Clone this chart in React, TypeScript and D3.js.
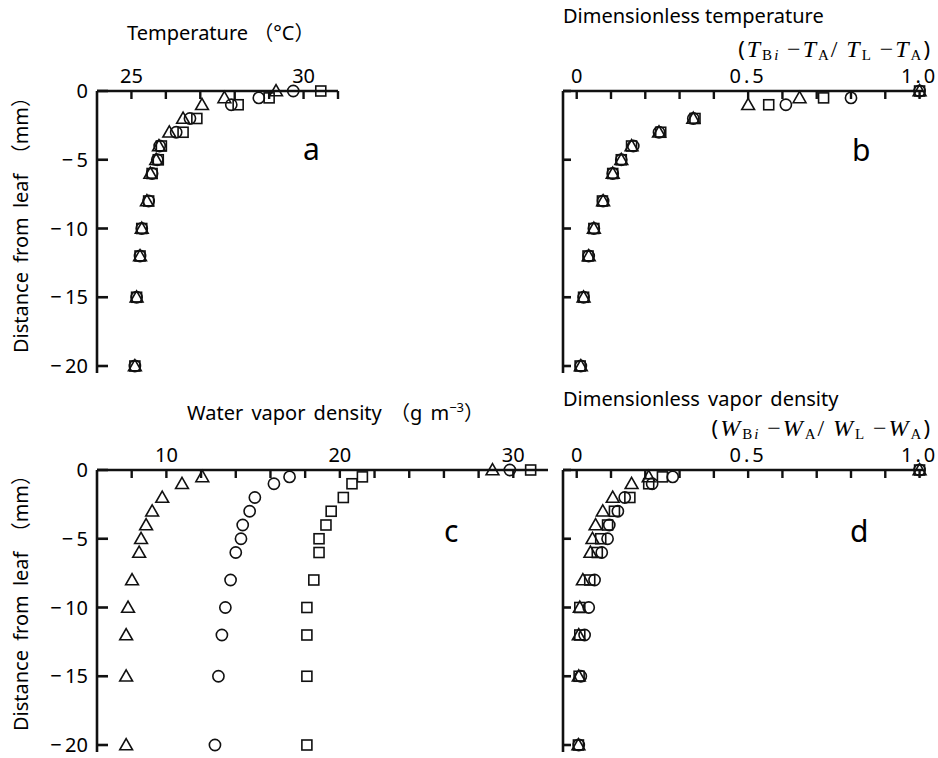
import React from 'react';
import * as d3 from 'd3';

// distance from leaf surface (mm), shared by all four panels
const distances = [0, -0.5, -1, -2, -3, -4, -5, -6, -8, -10, -12, -15, -20];

// a: temperature (°C)
const tempTri = [29.2, 27.7, 27.05, 26.5, 26.1, 25.8, 25.72, 25.55, 25.45, 25.3, 25.25, 25.15, 25.1];
const tempCir = [29.7, 28.7, 27.9, 26.7, 26.3, 25.82, 25.75, 25.6, 25.5, 25.3, 25.25, 25.15, 25.1];
const tempSq = [30.5, 29.0, 28.1, 26.9, 26.5, 25.87, 25.78, 25.6, 25.5, 25.3, 25.25, 25.15, 25.1];

// b: dimensionless temperature
const dTempTri = [1.0, 0.65, 0.5, 0.34, 0.24, 0.16, 0.13, 0.105, 0.077, 0.05, 0.035, 0.02, 0.012];
const dTempCir = [1.0, 0.8, 0.61, 0.34, 0.24, 0.165, 0.13, 0.105, 0.077, 0.05, 0.035, 0.02, 0.012];
const dTempSq = [1.0, 0.72, 0.56, 0.345, 0.245, 0.16, 0.13, 0.105, 0.075, 0.05, 0.033, 0.02, 0.01];

// c: water vapor density (g m-3)
const vapTri = [28.8, 12.07, 10.9, 9.76, 9.18, 8.83, 8.54, 8.43, 8.02, 7.79, 7.68, 7.68, 7.68];
const vapCir = [29.8, 17.1, 16.2, 15.1, 14.8, 14.4, 14.3, 14.0, 13.7, 13.4, 13.2, 13.0, 12.8];
const vapSq = [31.0, 21.3, 20.7, 20.2, 19.5, 19.2, 18.8, 18.8, 18.5, 18.1, 18.1, 18.1, 18.1];

// d: dimensionless vapor density
const dVapTri = [1.0, 0.21, 0.16, 0.105, 0.076, 0.055, 0.046, 0.04, 0.018, 0.009, 0.006, 0.006, 0.005];
const dVapCir = [1.0, 0.28, 0.22, 0.14, 0.12, 0.095, 0.09, 0.073, 0.052, 0.035, 0.023, 0.012, 0.006];
const dVapSq = [1.0, 0.25, 0.21, 0.155, 0.11, 0.09, 0.07, 0.06, 0.038, 0.009, 0.009, 0.007, 0.005];

const yTickValues = [0, -5, -10, -15, -20];
const tempTicks = [25, 26, 27, 28, 29, 30, 31];
const tempLabels = [25, 30];
const vapTicks = [8, 10, 12, 14, 16, 18, 20, 22, 24, 26, 28, 30];
const vapLabels = [10, 20, 30];
const dimTicks = [0, 0.1, 0.2, 0.3, 0.4, 0.5, 0.6, 0.7, 0.8, 0.9, 1.0];
const dimLabels = [0, 0.5, 1.0];

const SANS = '"Noto Sans", "DejaVu Sans", sans-serif';
const CJK = '"Noto Sans CJK JP", "Noto Sans", sans-serif';
const SERIF = '"Liberation Serif", "DejaVu Serif", serif';

type Shape = 'tri' | 'cir' | 'sq';

const Marker = ({ shape, x, y }: { shape: Shape; x: number; y: number }) => {
  const common = { fill: 'none', stroke: '#111', strokeWidth: 1.6 };
  if (shape === 'cir') return <circle cx={x} cy={y} r={5.6} {...common} />;
  if (shape === 'sq') return <rect x={x - 5} y={y - 5} width={10} height={10} {...common} />;
  const s = 6.4;
  return <path d={`M${x},${y - s}L${x + s},${y + s * 0.75}L${x - s},${y + s * 0.75}Z`} {...common} />;
};

interface PanelProps {
  xDomain: [number, number];
  xRange: [number, number];
  yTop: number;
  ticks: number[];
  labels: number[];
  fmt: (v: number) => string;
  yLabels: boolean;
  series: { shape: Shape; values: number[] }[];
  letter: string;
  letterPos: [number, number];
}

const Panel = ({ xDomain, xRange, yTop, ticks, labels, fmt, yLabels, series, letter, letterPos }: PanelProps) => {
  const x = d3.scaleLinear().domain(xDomain).range(xRange);
  const y = d3.scaleLinear().domain([0, -20]).range([yTop, yTop + 275]);
  const x0 = xRange[0];
  return (
    <g>
      {/* axes */}
      <line x1={x0} x2={xRange[1]} y1={yTop} y2={yTop} stroke="#111" strokeWidth={2.6} />
      <line x1={x0} x2={x0} y1={yTop} y2={y(-20.5)} stroke="#111" strokeWidth={2.6} />
      {ticks.map(t => (
        <line key={t} x1={x(t)} x2={x(t)} y1={yTop} y2={yTop + 8} stroke="#111" strokeWidth={2.4} />
      ))}
      {labels.map(t => (
        <text key={t} x={x(t)} y={yTop - 8} textAnchor="middle" fontSize={20}
          fontFamily={SANS} letterSpacing={fmt(t).length > 2 ? 3 : 0}>{fmt(t)}</text>
      ))}
      {yTickValues.map(t => (
        <g key={t}>
          <line x1={x0} x2={x0 + (yLabels ? 11 : 8)} y1={y(t)} y2={y(t)} stroke="#111" strokeWidth={2.6} />
          {yLabels && (
            <text x={x0 - 9} y={y(t)} dy="0.35em" textAnchor="end" fontSize={20} fontFamily={SANS}>
              {t === 0 ? '0' : `\u2212\u2009${-t}`}
            </text>
          )}
        </g>
      ))}
      {series.map(s =>
        s.values.map((v, i) => <Marker key={s.shape + i} shape={s.shape} x={x(v)} y={y(distances[i])} />)
      )}
      <text x={letterPos[0]} y={letterPos[1]} fontSize={30} fontFamily={SANS}>{letter}</text>
    </g>
  );
};

// "(V_Bi − V_A / V_L − V_A)" drawn piecewise so subscripts sit right
const Ratio = ({ v, x, y }: { v: string; x: number; y: number }) => {
  const sub = (s: string, italic = false) => (
    <tspan fontSize={15} dy={3} fontStyle={italic ? 'italic' : 'normal'}>{s}</tspan>
  );
  return (
    <text x={x} y={y} textAnchor="end" fontFamily={SERIF} fontSize={24} letterSpacing={2}>
      <tspan fontFamily={SANS} fontSize={22}>(</tspan>
      <tspan fontStyle="italic">{v}</tspan>
      {sub('B')}
      <tspan fontSize={15} fontStyle="italic">i</tspan>
      <tspan dy={-3}>{'\u2009\u2212'}</tspan>
      <tspan fontStyle="italic">{v}</tspan>
      {sub('A')}
      <tspan dy={-3}>/</tspan>
      <tspan fontStyle="italic">{'\u2009' + v}</tspan>
      {sub('L')}
      <tspan dy={-3}>{'\u2009\u2212'}</tspan>
      <tspan fontStyle="italic">{v}</tspan>
      {sub('A')}
      <tspan dy={-3} fontFamily={SANS} fontSize={22}>)</tspan>
    </text>
  );
};

export default function App() {
  const fmtInt = (v: number) => String(v);
  const fmtDim = (v: number) => (v === 0 ? '0' : v.toFixed(1));
  return (
    <svg width={938} height={758} style={{ position: 'absolute', left: 0, top: 0, background: '#fff' }}>
      <rect width={938} height={758} fill="#fff" />

      {/* titles */}
      <text x={127} y={40} fontSize={20} fontFamily={SANS}>
        Temperature <tspan fontFamily={CJK}>（</tspan>°C<tspan fontFamily={CJK}>）</tspan>
      </text>
      <text x={563} y={23} fontSize={20} fontFamily={SANS}>Dimensionless temperature</text>
      <Ratio v="T" x={932} y={57} />
      <text x={187} y={420} fontSize={20} fontFamily={SANS} wordSpacing={3}>
        Water vapor density <tspan fontFamily={CJK}>（</tspan>g m<tspan fontSize={13} dy={-8}>−3</tspan>
        <tspan dy={8} fontFamily={CJK}>）</tspan>
      </text>
      <text x={563} y={406} fontSize={20} fontFamily={SANS} wordSpacing={3}>Dimensionless vapor density</text>
      <Ratio v="W" x={932} y={436} />

      {/* y axis titles */}
      {[220, 598].map(cy => (
        <text key={cy} transform={`translate(28,${cy}) rotate(-90)`} textAnchor="middle"
          fontSize={20} fontFamily={SANS} wordSpacing={4}>
          Distance from leaf <tspan fontFamily={CJK}>（</tspan>mm<tspan fontFamily={CJK}>）</tspan>
        </text>
      ))}

      <Panel xDomain={[24, 31]} xRange={[97, 338]} yTop={91} ticks={tempTicks} labels={tempLabels}
        fmt={fmtInt} yLabels
        series={[{ shape: 'tri', values: tempTri }, { shape: 'cir', values: tempCir }, { shape: 'sq', values: tempSq }]}
        letter="a" letterPos={[303, 160]} />
      <Panel xDomain={[-0.04, 1.01]} xRange={[563, 923]} yTop={91} ticks={dimTicks} labels={dimLabels}
        fmt={fmtDim} yLabels={false}
        series={[{ shape: 'tri', values: dTempTri }, { shape: 'cir', values: dTempCir }, { shape: 'sq', values: dTempSq }]}
        letter="b" letterPos={[852, 161]} />
      <Panel xDomain={[6, 32]} xRange={[97, 548]} yTop={470} ticks={vapTicks} labels={vapLabels}
        fmt={fmtInt} yLabels
        series={[{ shape: 'tri', values: vapTri }, { shape: 'cir', values: vapCir }, { shape: 'sq', values: vapSq }]}
        letter="c" letterPos={[444, 542]} />
      <Panel xDomain={[-0.04, 1.01]} xRange={[563, 923]} yTop={470} ticks={dimTicks} labels={dimLabels}
        fmt={fmtDim} yLabels={false}
        series={[{ shape: 'tri', values: dVapTri }, { shape: 'cir', values: dVapCir }, { shape: 'sq', values: dVapSq }]}
        letter="d" letterPos={[850, 542]} />
    </svg>
  );
}
